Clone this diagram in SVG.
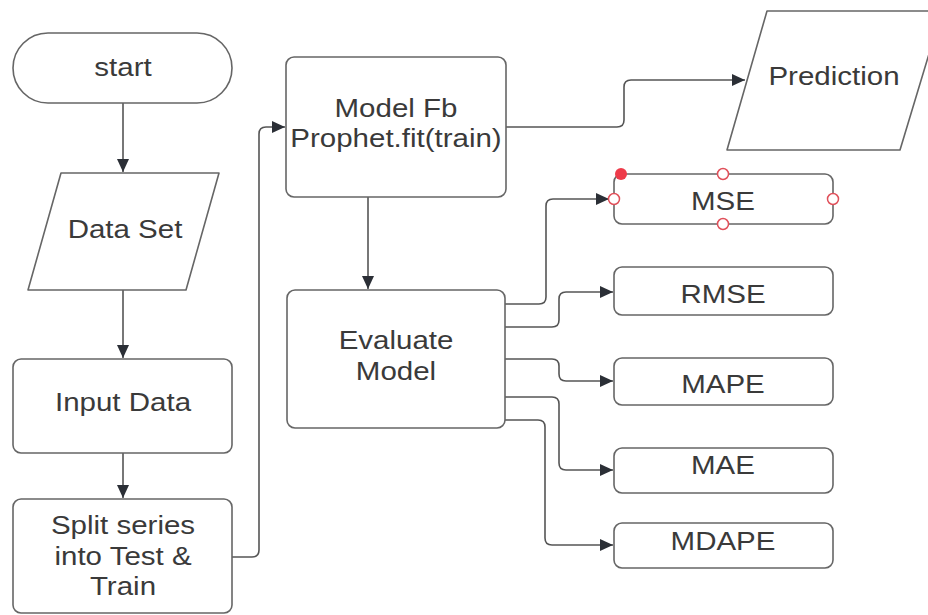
<svg xmlns="http://www.w3.org/2000/svg" width="928" height="615" viewBox="0 0 928 615">
<style>
.box{fill:#fff;stroke:#666;stroke-width:1.6}
.t{font-family:"Liberation Sans",Arial,sans-serif;font-size:25px;fill:#3a3a3a;text-anchor:middle}
.c{fill:none;stroke:#555;stroke-width:1.6}
.h{fill:#fff;stroke:#e0505a;stroke-width:1.5}
</style>
<defs>
<marker id="ah" markerUnits="userSpaceOnUse" markerWidth="14" markerHeight="12" refX="13" refY="6" orient="auto">
<path d="M0,0 L13,6 L0,12 z" fill="#2b2f36"/>
</marker>
</defs>
<rect width="928" height="615" fill="#fff"/>
<g id="connectors">
<path class="c" d="M123,103 V172" marker-end="url(#ah)"/>
<path class="c" d="M123,290 V358" marker-end="url(#ah)"/>
<path class="c" d="M123,453 V498" marker-end="url(#ah)"/>
<path class="c" d="M232,557 H252 Q259,557 259,550 V134 Q259,127 266,127 H285" marker-end="url(#ah)"/>
<path class="c" d="M368,197 V289" marker-end="url(#ah)"/>
<path class="c" d="M506,127 H617 Q624,127 624,120 V87 Q624,80 631,80 H745" marker-end="url(#ah)"/>
<path class="c" d="M505,304 H539 Q546,304 546,297 V206 Q546,199 553,199 H609" marker-end="url(#ah)"/>
<path class="c" d="M505,327 H552 Q559,327 559,320 V299 Q559,292 566,292 H613" marker-end="url(#ah)"/>
<path class="c" d="M505,359 H552 Q559,359 559,366 V374 Q559,381 566,381 H613" marker-end="url(#ah)"/>
<path class="c" d="M505,397 H552 Q559,397 559,404 V463 Q559,470 566,470 H613" marker-end="url(#ah)"/>
<path class="c" d="M505,420 H538 Q545,420 545,427 V538 Q545,545 552,545 H613" marker-end="url(#ah)"/>
</g>
<g id="start">
<rect class="box" x="13" y="33" width="219" height="70" rx="35"/>
<text class="t" transform="translate(123,76) scale(1.18,1)">start</text>
</g>
<g id="dataset">
<path class="box" d="M61,173 H219 L186,290 H28 Z" stroke-linejoin="round"/>
<text class="t" transform="translate(125,238) scale(1.18,1)">Data Set</text>
</g>
<g id="input">
<rect class="box" x="13" y="359" width="219" height="94" rx="8"/>
<text class="t" transform="translate(123,411) scale(1.18,1)">Input Data</text>
</g>
<g id="split">
<rect class="box" x="13" y="499" width="219" height="114" rx="8"/>
<text class="t" transform="translate(123,534) scale(1.18,1)">Split series</text>
<text class="t" transform="translate(123,565) scale(1.18,1)">into Test &amp;</text>
<text class="t" transform="translate(123,595) scale(1.18,1)">Train</text>
</g>
<g id="model">
<rect class="box" x="286" y="57" width="220" height="140" rx="8"/>
<text class="t" transform="translate(396,117) scale(1.18,1)">Model Fb</text>
<text class="t" transform="translate(396,147) scale(1.18,1)">Prophet.fit(train)</text>
</g>
<g id="evaluate">
<rect class="box" x="287" y="290" width="218" height="138" rx="8"/>
<text class="t" transform="translate(396,349) scale(1.18,1)">Evaluate</text>
<text class="t" transform="translate(396,380) scale(1.18,1)">Model</text>
</g>
<g id="prediction">
<path class="box" d="M767,11 H942 L900,150 H727 Z" stroke-linejoin="round"/>
<text class="t" transform="translate(834,85) scale(1.18,1)">Prediction</text>
</g>
<g id="mse">
<rect class="box" x="614" y="174" width="219" height="50" rx="8"/>
<text class="t" transform="translate(723,210) scale(1.18,1)">MSE</text>
<circle class="h" cx="723" cy="174" r="5.5"/>
<circle class="h" cx="723" cy="224" r="5.5"/>
<circle class="h" cx="614" cy="199" r="5.5"/>
<circle class="h" cx="833" cy="199" r="5.5"/>
<circle cx="621" cy="174" r="6" fill="#ee3b4a"/>
</g>
<g id="rmse">
<rect class="box" x="614" y="267" width="219" height="48" rx="8"/>
<text class="t" transform="translate(723,303) scale(1.18,1)">RMSE</text>
</g>
<g id="mape">
<rect class="box" x="614" y="358" width="219" height="47" rx="8"/>
<text class="t" transform="translate(723,393) scale(1.18,1)">MAPE</text>
</g>
<g id="mae">
<rect class="box" x="614" y="448" width="219" height="45" rx="8"/>
<text class="t" transform="translate(723,474) scale(1.18,1)">MAE</text>
</g>
<g id="mdape">
<rect class="box" x="614" y="523" width="219" height="45" rx="8"/>
<text class="t" transform="translate(723,550) scale(1.18,1)">MDAPE</text>
</g>
</svg>
